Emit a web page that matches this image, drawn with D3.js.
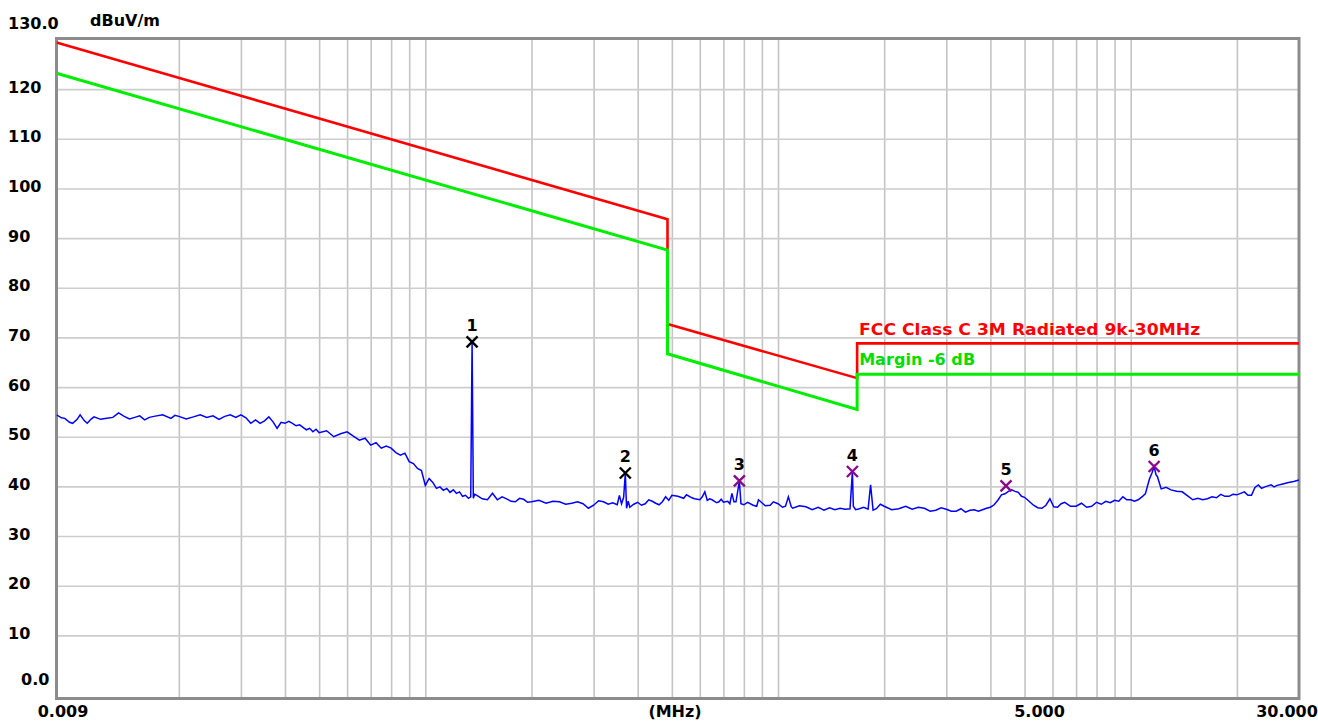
<!DOCTYPE html>
<html><head><meta charset="utf-8">
<script src="https://cdn.jsdelivr.net/npm/d3@7"></script>
<style>body{margin:0;background:#fff;overflow:hidden}svg{display:block}</style>
</head><body><svg id="c" width="1318" height="722"></svg>
<script>
// ---- data ----
const limitFreq   = [0.009, 0.486, 0.486, 1.676, 1.676, 30];
const limitLevel  = [129.4, 93.8, 72.7, 61.8, 68.8, 68.8];
const marginLevel = [123.2, 87.6, 66.7, 55.5, 62.6, 62.6];
const limitName = "FCC Class C 3M Radiated 9k-30MHz";
const marginName = "Margin -6 dB";

const traceFreq = [0.009,0.0093,0.0095,0.0098,0.01,0.0103,0.0105,0.0108,0.011,0.0113,0.0115,0.012,0.0125,0.013,0.0135,0.014,0.0145,0.015,0.0155,0.016,0.0165,0.017,0.018,0.019,0.0195,0.020,0.021,0.022,0.023,0.024,0.025,0.026,0.027,0.028,0.029,0.030,0.031,0.032,0.033,0.034,0.035,0.036,0.037,0.038,0.039,0.040,0.041,0.042,0.043,0.044,0.045,0.046,0.047,0.048,0.049,0.050,0.0525,0.055,0.0575,0.060,0.0625,0.065,0.0675,0.070,0.0725,0.075,0.0775,0.080,0.0825,0.085,0.0875,0.090,0.0925,0.095,0.0975,0.100,0.1025,0.105,0.1075,0.11,0.1125,0.115,0.1175,0.12,0.1225,0.125,0.1275,0.13,0.1325,0.1345,0.1357,0.1368,0.138,0.14,0.145,0.15,0.155,0.16,0.165,0.17,0.175,0.18,0.185,0.19,0.195,0.20,0.21,0.22,0.23,0.24,0.25,0.26,0.27,0.28,0.29,0.30,0.31,0.32,0.33,0.34,0.35,0.355,0.36,0.365,0.369,0.372,0.376,0.38,0.39,0.40,0.41,0.42,0.43,0.44,0.45,0.46,0.47,0.48,0.49,0.50,0.52,0.54,0.55,0.57,0.58,0.6,0.61,0.62,0.63,0.64,0.65,0.67,0.68,0.69,0.7,0.72,0.73,0.74,0.75,0.76,0.777,0.785,0.8,0.82,0.85,0.87,0.88,0.9,0.92,0.95,0.97,1.0,1.03,1.05,1.07,1.09,1.1,1.15,1.2,1.25,1.3,1.35,1.4,1.45,1.5,1.55,1.6,1.615,1.625,1.635,1.66,1.7,1.75,1.8,1.83,1.86,1.9,1.95,2.0,2.1,2.2,2.3,2.4,2.5,2.6,2.7,2.8,2.9,3.0,3.1,3.2,3.3,3.4,3.5,3.6,3.7,3.8,3.9,4.0,4.1,4.2,4.3,4.4,4.5,4.6,4.7,4.8,4.9,5.0,5.15,5.3,5.45,5.6,5.75,5.9,6.05,6.2,6.35,6.5,6.75,7.0,7.25,7.5,7.75,8.0,8.25,8.5,8.75,9.0,9.25,9.5,9.75,10,10.25,10.5,10.8,11,11.3,11.5,11.65,11.8,11.9,12.2,12.6,13,13.5,14,14.5,15,15.5,16,16.5,17,17.5,18,18.5,19,19.5,20,20.5,21,21.5,22,22.5,23,23.5,24,24.5,25,25.5,26,27,28,29,30];
const traceLevel = [54.4,53.8,53.7,52.9,52.7,53.5,54.4,53.2,52.7,53.6,54.0,53.5,53.7,53.9,54.8,54.1,53.6,53.9,54.2,53.4,53.9,54.1,54.4,53.7,54.3,54.1,53.6,54.0,54.4,53.9,54.2,53.5,54.1,54.4,53.9,54.4,53.8,52.7,53.4,52.7,53.2,54.0,53.0,51.7,52.9,52.7,53.1,52.7,52.2,52.4,51.9,51.4,51.7,51.0,51.5,50.8,51.2,50.0,50.6,51.0,50.1,49.3,49.7,48.3,48.8,47.7,48.1,47.7,46.8,46.3,46.7,45.0,44.6,43.6,43.2,40.2,41.6,40.8,39.6,39.9,39.2,39.6,38.8,39.3,38.6,38.9,38.0,38.2,37.6,37.9,69.1,37.6,38.4,38.2,37.5,37.3,38.6,37.3,37.9,37.5,37.0,36.9,37.6,37.4,36.8,36.9,37.2,36.6,37.0,36.9,36.4,36.6,36.9,36.5,35.6,36.2,37.1,36.9,36.4,36.7,36.3,38.2,36.5,37.8,42.7,35.6,37.0,35.8,36.4,36.8,36.2,36.5,37.3,37.0,36.6,36.3,36.9,37.9,37.2,38.2,38.0,37.6,38.3,37.7,37.5,37.3,37.9,38.9,37.2,37.5,37.3,36.7,36.9,37.4,36.8,37.0,36.5,38.6,36.9,36.9,41.1,36.5,36.3,36.8,36.2,36.0,37.3,36.7,36.1,36.2,36.9,36.5,35.8,36.0,37.9,35.9,35.6,36.1,35.9,35.3,35.8,35.2,35.7,35.3,35.6,35.4,35.5,40.0,43.0,36.0,35.3,35.5,35.8,35.4,40.3,35.2,35.5,36.4,36.0,35.3,35.5,36.0,35.4,35.8,35.6,35.0,35.2,35.7,35.4,35.0,35.0,35.5,34.8,35.2,35.3,35.0,35.3,35.6,35.8,36.3,37.2,38.3,38.5,39.0,39.3,39.0,38.8,38.0,37.8,37.0,36.2,35.7,35.6,36.2,37.5,35.9,35.8,36.5,36.8,36.0,36.0,36.6,35.8,36.0,36.8,36.4,37.0,36.7,37.2,37.0,37.9,37.3,37.3,37.0,37.3,38.0,38.5,41.5,42.8,44.0,42.3,42.0,39.5,39.8,39.3,39.0,38.9,38.1,37.3,37.6,37.3,37.5,37.9,37.7,38.4,38.0,38.0,38.4,38.3,38.6,38.9,38.2,38.2,39.8,40.3,39.6,39.9,40.1,40.3,39.9,40.2,40.5,40.8,41.0,41.3];

const markerId    = ["1","2","3","4","5","6"];
const markerFreq  = [0.1357, 0.369, 0.777, 1.625, 4.43, 11.65];
const markerLevel = [69.1, 42.7, 41.1, 43.0, 40.1, 44.0];
const markerKind  = ["qp","qp","pk","pk","pk","pk"];

const gridFreqs = [0.02,0.03,0.04,0.05,0.06,0.07,0.08,0.09,0.1,0.2,0.3,0.4,0.5,0.6,0.7,0.8,0.9,1,2,3,4,5,6,7,8,9,10,20];
const gridLevels = [10,20,30,40,50,60,70,80,90,100,110,120];
const yTickLabels = [10,20,30,40,50,60,70,80,90,100,110,120];
const xTickLabels = [{v:0.009,t:"0.009"},{v:5,t:"5.000"},{v:30,t:"30.000"}];
const yUnit = "dBuV/m", xUnit = "(MHz)", yTop = "130.0", yBottom = "0.0";

// ---- chart ----
const svg = d3.select("#c");
const L = 56.5, R = 1299, T = 38.5, B = 698.5;
const x = d3.scaleLog().domain([0.009, 30]).range([L, R]);
const y = d3.scaleLinear().domain([0, 130]).range([685, 39.5]);
const font = "'DejaVu Sans', sans-serif";

// grid
const gx = svg.append("g").attr("transform", `translate(0,${B})`)
  .call(d3.axisBottom(x).tickValues(gridFreqs).tickSize(-(B - T)).tickFormat(""));
gx.select(".domain").remove();
gx.selectAll("line").attr("stroke", "#c4c4c4").attr("stroke-width", 1.6);
const gy = svg.append("g").attr("transform", `translate(${L},0)`)
  .call(d3.axisLeft(y).tickValues(gridLevels).tickSize(-(R - L)).tickFormat(""));
gy.select(".domain").remove();
gy.selectAll("line").attr("stroke", "#cdcdcd").attr("stroke-width", 1.6);

// frame
svg.append("rect").attr("x", L).attr("y", T).attr("width", R - L).attr("height", B - T)
  .attr("fill", "none").attr("stroke", "#8c8c8c").attr("stroke-width", 3);

// clip
svg.append("clipPath").attr("id", "pc").append("rect")
  .attr("x", L).attr("y", T).attr("width", R - L).attr("height", B - T);
const plot = svg.append("g").attr("clip-path", "url(#pc)");

const line = d3.line().x(d => x(d[0])).y(d => y(d[1]));

// trace
plot.append("path").datum(traceFreq.map((f, i) => [f, traceLevel[i]]))
  .attr("d", line).attr("fill", "none").attr("stroke", "#0000ff")
  .attr("stroke-width", 1.5).attr("stroke-linejoin", "miter");

// limit & margin
plot.append("path").datum(limitFreq.map((f, i) => [f, limitLevel[i]]))
  .attr("d", line).attr("fill", "none").attr("stroke", "#ff0000").attr("stroke-width", 2.6);
plot.append("path").datum(limitFreq.map((f, i) => [f, marginLevel[i]]))
  .attr("d", line).attr("fill", "none").attr("stroke", "#00ee00").attr("stroke-width", 3);

// line labels
svg.append("text").attr("x", x(limitFreq[3]) + 2).attr("y", y(limitLevel[4]) - 8)
  .attr("font-family", font).attr("font-weight", "bold").attr("font-size", 16)
  .attr("fill", "#ff0000").attr("textLength", 341).attr("lengthAdjust", "spacingAndGlyphs")
  .text(limitName);
svg.append("text").attr("x", x(limitFreq[3]) + 2).attr("y", y(limitLevel[4]) + 22)
  .attr("font-family", font).attr("font-weight", "bold").attr("font-size", 16)
  .attr("fill", "#00dd00").attr("textLength", 116).attr("lengthAdjust", "spacingAndGlyphs")
  .text(marginName);

// markers
const mk = svg.append("g");
markerFreq.forEach((f, i) => {
  const cx = x(f), cy = y(markerLevel[i]);
  const col = markerKind[i] === "qp" ? "#000000" : "#8b0a8b";
  mk.append("path").attr("d", `M${cx-5.5},${cy-5.5}L${cx+5.5},${cy+5.5}M${cx-5.5},${cy+5.5}L${cx+5.5},${cy-5.5}`)
    .attr("stroke", col).attr("stroke-width", 2.4).attr("fill", "none");
  mk.append("text").attr("x", cx).attr("y", cy - 16).attr("text-anchor", "middle")
    .attr("dominant-baseline", "central").attr("font-family", font).attr("font-weight", "bold")
    .attr("font-size", 16).attr("fill", "#000").text(markerId[i]);
});

// y labels
const yl = svg.append("g").attr("font-family", font).attr("font-weight", "bold").attr("font-size", 16).attr("fill", "#000");
yTickLabels.forEach(v => {
  yl.append("text").attr("x", 8).attr("y", y(v) - 2).attr("dominant-baseline", "central").text(v);
});
yl.append("text").attr("x", 8).attr("y", y(130) - 16).attr("dominant-baseline", "central").text(yTop);
yl.append("text").attr("x", 21).attr("y", y(0) - 6).attr("dominant-baseline", "central").text(yBottom);
yl.append("text").attr("x", 90).attr("y", y(130) - 19).attr("dominant-baseline", "central").text(yUnit);

// x labels
const xOff = {"0.009": 6.5, "5.000": 15, "30.000": -12};
xTickLabels.forEach(d => {
  yl.append("text").attr("x", x(d.v) + xOff[d.t]).attr("y", 711).attr("text-anchor", "middle")
    .attr("dominant-baseline", "central").text(d.t);
});
yl.append("text").attr("x", 675).attr("y", 711).attr("text-anchor", "middle")
  .attr("dominant-baseline", "central").text(xUnit);
</script></body></html>
